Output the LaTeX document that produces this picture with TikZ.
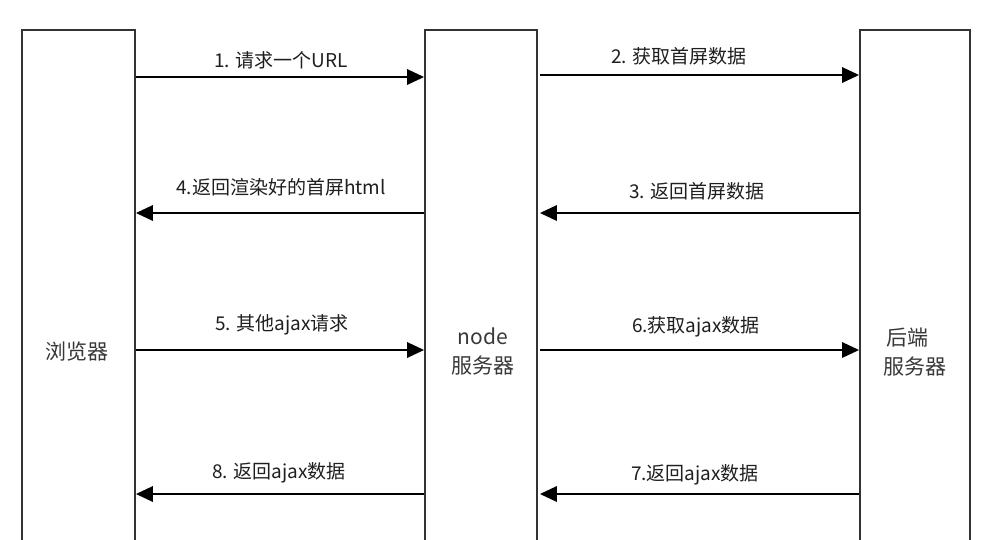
\documentclass[tikz,border=0pt]{standalone}
\usepackage{fontspec}
\newfontfamily\cjk{Noto Sans CJK SC}
\usetikzlibrary{arrows.meta}
\begin{document}
\begin{tikzpicture}[x=1pt,y=-1pt,
  col/.style={draw=black!80,line width=1.6pt,minimum height=580pt,inner sep=0pt,anchor=north},
  msg/.style={line width=2.9pt,draw=black,-{Triangle[length=17pt,width=15pt]}},
  lbl/.style={font=\cjk\fontsize{19}{22}\selectfont,text=black!88,inner sep=0pt},
  clbl/.style={font=\cjk\fontsize{21}{25}\selectfont,text=black!78,inner sep=0pt}]
\useasboundingbox (0,0) rectangle (996,539);
\clip (0,0) rectangle (996,539);
\fill[white] (0,0) rectangle (996,539);
% columns
\node[col,minimum width=113pt] (br) at (78.5,29) {};
\node[col,minimum width=112pt] (nd) at (481,29) {};
\node[col,minimum width=110pt] (be) at (915,29) {};
% column labels
\node[clbl] (brl) at (77,352) {浏览器};
\node[clbl] (ndl1) at (483,336) {node};
\node[clbl] (ndl2) at (483,366) {服务器};
\node[clbl] (bel1) at (907,338) {后端};
\node[clbl] (bel2) at (915,367) {服务器};
% messages
\draw[msg] (br.east |- 0,77) -- (nd.west |- 0,77);
\node[lbl] (m1) at (281,60) {1. 请求一个URL};
\draw[msg,shorten <=2pt] (nd.east |- 0,75) -- (be.west |- 0,75);
\node[lbl] (m2) at (679,56) {2. 获取首屏数据};
\draw[msg,shorten >=2pt] (be.west |- 0,213) -- (nd.east |- 0,213);
\node[lbl] (m3) at (697,191) {3. 返回首屏数据};
\draw[msg] (nd.west |- 0,213) -- (br.east |- 0,213);
\node[lbl] (m4) at (281,187) {4.返回渲染好的首屏html};
\draw[msg] (br.east |- 0,350) -- (nd.west |- 0,350);
\node[lbl] (m5) at (282,325) {5. 其他ajax请求};
\draw[msg,shorten <=2pt] (nd.east |- 0,350) -- (be.west |- 0,350);
\node[lbl] (m6) at (696,327) {6.获取ajax数据};
\draw[msg,shorten >=2pt] (be.west |- 0,494) -- (nd.east |- 0,494);
\node[lbl] (m7) at (695,475) {7.返回ajax数据};
\draw[msg] (nd.west |- 0,494) -- (br.east |- 0,494);
\node[lbl] (m8) at (279,473) {8. 返回ajax数据};
\end{tikzpicture}
\end{document}
